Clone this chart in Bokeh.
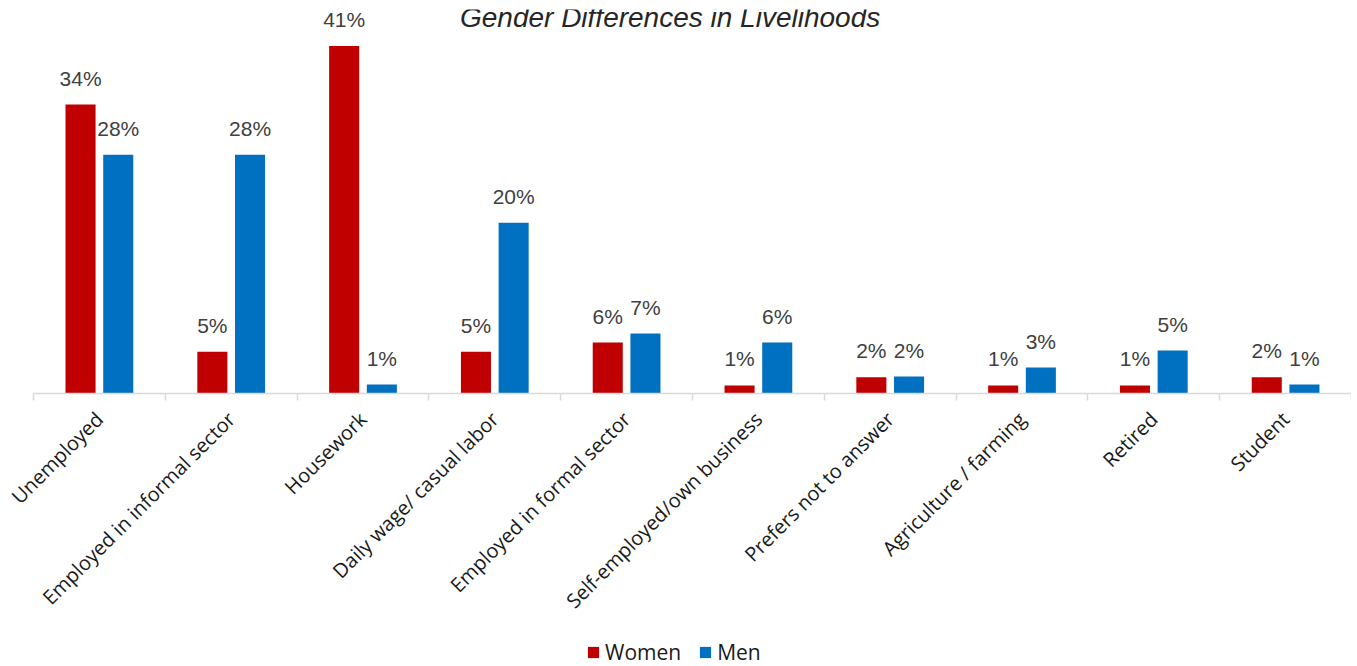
import math
from bokeh.plotting import figure
from bokeh.layouts import column
from bokeh.models import (ColumnDataSource, Range1d, LinearAxis, FixedTicker,
                          LabelSet, Label, Legend, LegendItem)
from bokeh.core.properties import value
from bokeh.transform import dodge
from bokeh.embed import file_html
from bokeh.resources import INLINE

categories = ["Unemployed", "Employed in informal sector", "Housework",
              "Daily wage/ casual labor", "Employed in formal sector",
              "Self-employed/own business", "Prefers not to answer",
              "Agriculture / farming", "Retired", "Student"]
women = [34.0, 4.9, 40.9, 4.9, 6.0, 0.95, 1.9, 0.95, 0.95, 1.9]
men = [28.1, 28.1, 1.05, 20.1, 7.05, 6.0, 2.0, 3.05, 5.05, 1.05]
title_text = "Gender Differences in Livelihoods"
series_names = ["Women", "Men"]
colors = ["#C00000", "#0070C0"]

n = len(categories)
centers = [i + 0.5 for i in range(n)]
bounds = [float(i) for i in range(n + 1)]

src = ColumnDataSource(dict(
    cat=categories, xc=centers,
    w=women, m=men,
    wl=[f"{round(v)}%" for v in women],
    ml=[f"{round(v)}%" for v in men],
))

p = figure(width=1351, height=630, x_range=Range1d(0, n),
           y_range=Range1d(0, 45.18), output_backend="svg", toolbar_location=None,
           x_axis_location=None, y_axis_location=None,
           min_border_left=33, min_border_right=0, min_border_top=9, min_border_bottom=237)
p.outline_line_color = None
p.xgrid.visible = False
p.ygrid.visible = False
p.background_fill_color = "white"
p.border_fill_color = "white"

off = 0.143
bw = 0.228
rw = p.vbar(x=dodge("xc", -off), top="w", width=bw, source=src,
            fill_color=colors[0], line_color=None)
rm = p.vbar(x=dodge("xc", off), top="m", width=bw, source=src,
            fill_color=colors[1], line_color=None)

lab_font = value("Liberation Sans")
lw = LabelSet(x=dodge("xc", -off), y="w", text="wl", source=src,
              y_offset=19, text_align="center", text_baseline="alphabetic",
              text_font=lab_font, text_font_size="21px", text_color="#404040")
lm = LabelSet(x=dodge("xc", off), y="m", text="ml", source=src,
              y_offset=19, text_align="center", text_baseline="alphabetic",
              text_font=lab_font, text_font_size="21px", text_color="#404040",
              background_fill_color="white")
try:
    lm.padding = 6
except Exception:
    pass
p.add_layout(lw)
p.add_layout(lm)

# axis with category labels at centers and ticks at category boundaries
ax = LinearAxis(ticker=FixedTicker(ticks=centers, minor_ticks=bounds))
ax.major_label_overrides = {c: name for c, name in zip(centers, categories)}
ax.major_label_orientation = math.pi / 4
ax.major_label_text_font = "Open Sans"
ax.major_label_text_font_size = "20px"
ax.major_label_text_color = "#1a1a1a"
ax.major_label_standoff = 15
ax.major_tick_out = 0
ax.major_tick_in = 0
ax.minor_tick_out = 7
ax.minor_tick_in = 0
ax.minor_tick_line_color = "#d9d9d9"
ax.minor_tick_line_width = 1.5
ax.axis_line_color = "#d9d9d9"
ax.axis_line_width = 1.5
p.add_layout(ax, "below")

title = Label(x=4.83, y=45.18, y_offset=8, text=title_text, text_align="center",
              text_baseline="top", text_font="Liberation Sans", text_font_style="italic",
              text_font_size="28px", text_color="#262626")
p.add_layout(title)

# legend strip below the chart (its bars lie outside its visible y range)
lg = figure(width=1351, height=36, x_range=Range1d(0, n), y_range=Range1d(100, 101),
            output_backend="svg", toolbar_location=None,
            x_axis_location=None, y_axis_location=None,
            min_border_left=0, min_border_right=0, min_border_top=0, min_border_bottom=0)
lg.outline_line_color = None
lg.xgrid.visible = False
lg.ygrid.visible = False
kw = lg.vbar(x="xc", top="w", width=bw, source=src, fill_color=colors[0], line_color=None)
km = lg.vbar(x="xc", top="m", width=bw, source=src, fill_color=colors[1], line_color=None)
legend = Legend(items=[LegendItem(label=series_names[0], renderers=[kw]),
                       LegendItem(label=series_names[1], renderers=[km])],
                orientation="horizontal", location=(553, 0),
                glyph_width=14, glyph_height=14, label_standoff=5, spacing=17,
                padding=0, margin=0, border_line_color=None, background_fill_alpha=0,
                label_text_font="Open Sans", label_text_font_size="21px",
                label_text_color="#1a1a1a")
lg.add_layout(legend, "center")

layout = column(p, lg, spacing=0)
open("out.html", "w").write(file_html(layout, INLINE))
